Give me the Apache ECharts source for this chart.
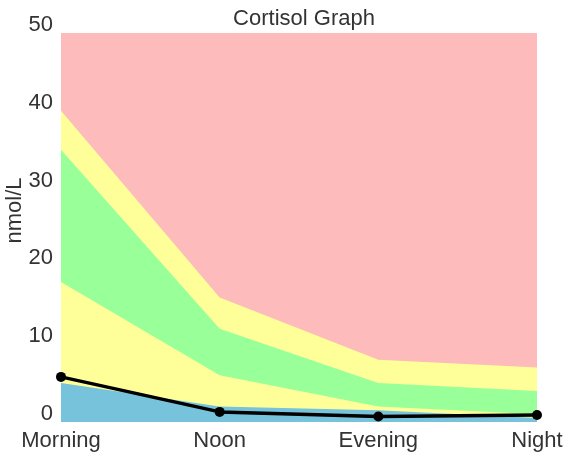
<!DOCTYPE html>
<html>
<head>
<meta charset="utf-8">
<script src="https://cdn.jsdelivr.net/npm/echarts@6/dist/echarts.min.js"></script>
<style>html,body{margin:0;padding:0;background:#fff;}#c{width:566px;height:457px;}</style>
</head>
<body>
<div id="c"></div>
<script>
var categories = ['Morning', 'Noon', 'Evening', 'Night'];
var redTop = [50, 50, 50, 50];
var yellowHigh = [40, 16, 8, 7];
var greenTop = [35, 12, 5, 4];
var yellowLow = [18, 6, 2, 1];
var blueTop = [5, 2, 1.5, 0.5];
var cortisol = [5.8, 1.3, 0.7, 0.9];
var yTicks = [0, 10, 20, 30, 40, 50];

function band(name, data, color) {
  return {
    name: name, type: 'line', data: data, showSymbol: false, silent: true,
    lineStyle: { width: 0 }, areaStyle: { color: color, opacity: 1, origin: 'start' }
  };
}

var chart = echarts.init(document.getElementById('c'), null, { renderer: 'canvas' });
chart.setOption({
  animation: false,
  backgroundColor: '#ffffff',
  textStyle: { fontFamily: 'Liberation Sans, Arial, sans-serif' },
  title: {
    text: 'Cortisol Graph', left: 299, top: 3, textAlign: 'center',
    textStyle: { fontSize: 22, fontWeight: 'normal', color: '#333333', fontFamily: 'Liberation Sans, Arial, sans-serif' }
  },
  grid: { left: 61, right: 29, top: 33, bottom: 35, containLabel: false, outerBoundsMode: 'none' },
  xAxis: {
    type: 'category', data: categories, boundaryGap: false,
    axisLine: { show: false }, axisTick: { show: false }, splitLine: { show: false },
    axisLabel: { fontSize: 22, color: '#333333', margin: 8, fontFamily: 'Liberation Sans, Arial, sans-serif' }
  },
  yAxis: {
    type: 'value', min: yTicks[0], max: yTicks[yTicks.length - 1], interval: 10,
    name: 'nmol/L', nameLocation: 'middle', nameGap: 35, nameRotate: 90, nameMoveOverlap: false,
    nameTextStyle: { fontSize: 22, color: '#333333', padding: [0, 0, 0, 34], fontFamily: 'Liberation Sans, Arial, sans-serif' },
    axisLine: { show: false }, axisTick: { show: false }, splitLine: { show: false },
    axisLabel: { fontSize: 22, color: '#333333', margin: 8, verticalAlign: 'bottom', lineHeight: 16, fontFamily: 'Liberation Sans, Arial, sans-serif' }
  },
  series: [
    band('red', redTop, '#fdbbbb'),
    band('yellowHigh', yellowHigh, '#ffff99'),
    band('green', greenTop, '#99ff99'),
    band('yellowLow', yellowLow, '#ffff99'),
    band('blue', blueTop, '#77c3dc'),
    {
      name: 'Cortisol', type: 'line', data: cortisol, symbol: 'circle', symbolSize: 10,
      showSymbol: true, lineStyle: { color: '#000000', width: 3.5 }, itemStyle: { color: '#000000' }, z: 5
    }
  ]
});
</script>
</body>
</html>
